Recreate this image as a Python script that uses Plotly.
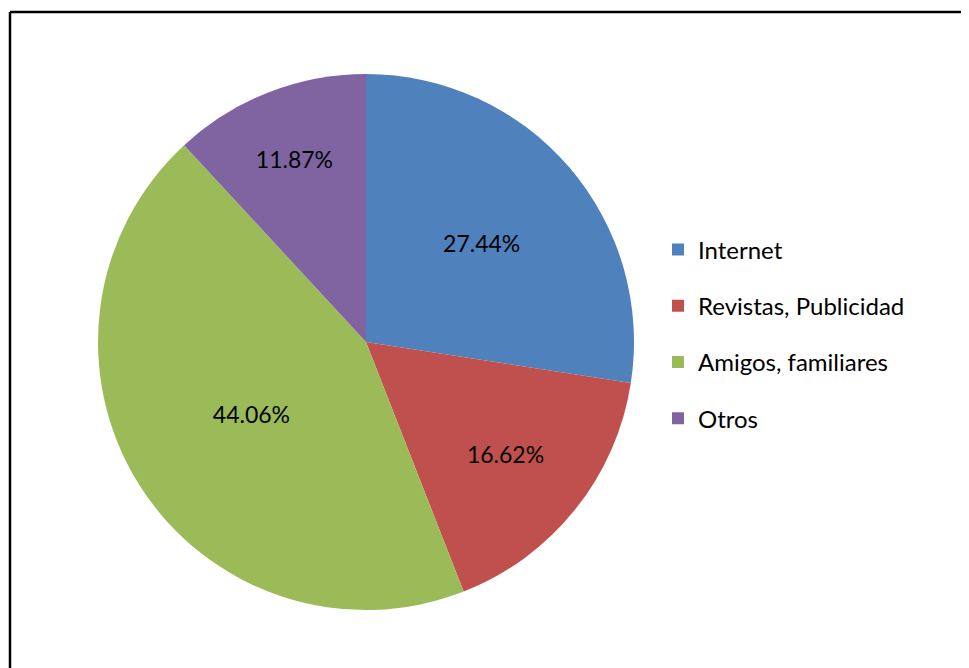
import plotly.graph_objects as go

categories = ["Internet", "Revistas, Publicidad", "Amigos, familiares", "Otros"]
values = [27.44, 16.62, 44.06, 11.87]
colors = ["#4F81BD", "#C0504D", "#9BBB59", "#8064A2"]

OFF = 8  # page offset of the plot div
W, H = 969 - OFF, 668 - OFF
cx, cy, r = 366 - OFF, 342 - OFF, 268
FONT = "Lato"

fig = go.Figure()
fig.add_trace(go.Pie(
    labels=categories, values=values, sort=False, direction="clockwise", rotation=0,
    marker=dict(colors=colors, line=dict(width=0)),
    texttemplate="%{value:.2f}%", textposition="inside", insidetextorientation="horizontal",
    textfont=dict(family=FONT, size=23, color="black"),
    domain=dict(x=[(cx - r) / W, (cx + r) / W], y=[1 - (cy + r) / H, 1 - (cy - r) / H]),
    showlegend=False, hoverinfo="label+percent",
))
for i, (c, col) in enumerate(zip(categories, colors)):
    fig.add_trace(go.Scatter(
        x=[None], y=[None], mode="markers", name=c, legendgroup=c,
        marker=dict(symbol="square", size=15, color=col),
    ))

bx, by = (10 - OFF) / W, 1 - (12 - OFF) / H
fig.update_layout(
    width=W, height=H, margin=dict(l=0, r=0, t=0, b=0),
    paper_bgcolor="white", plot_bgcolor="white",
    xaxis=dict(visible=False), yaxis=dict(visible=False),
    legend=dict(x=(658 - OFF) / W, y=1 - (334 - OFF) / H, xanchor="left", yanchor="middle",
                font=dict(family=FONT, size=24, color="black"),
                tracegroupgap=22, itemsizing="constant"),
    shapes=[
        dict(type="line", xref="paper", yref="paper", x0=bx, x1=1.0, y0=by, y1=by,
             line=dict(color="black", width=2.5)),
        dict(type="line", xref="paper", yref="paper", x0=bx, x1=bx, y0=0.0, y1=by,
             line=dict(color="black", width=2.5)),
    ],
)
fig.write_html("out.html")
